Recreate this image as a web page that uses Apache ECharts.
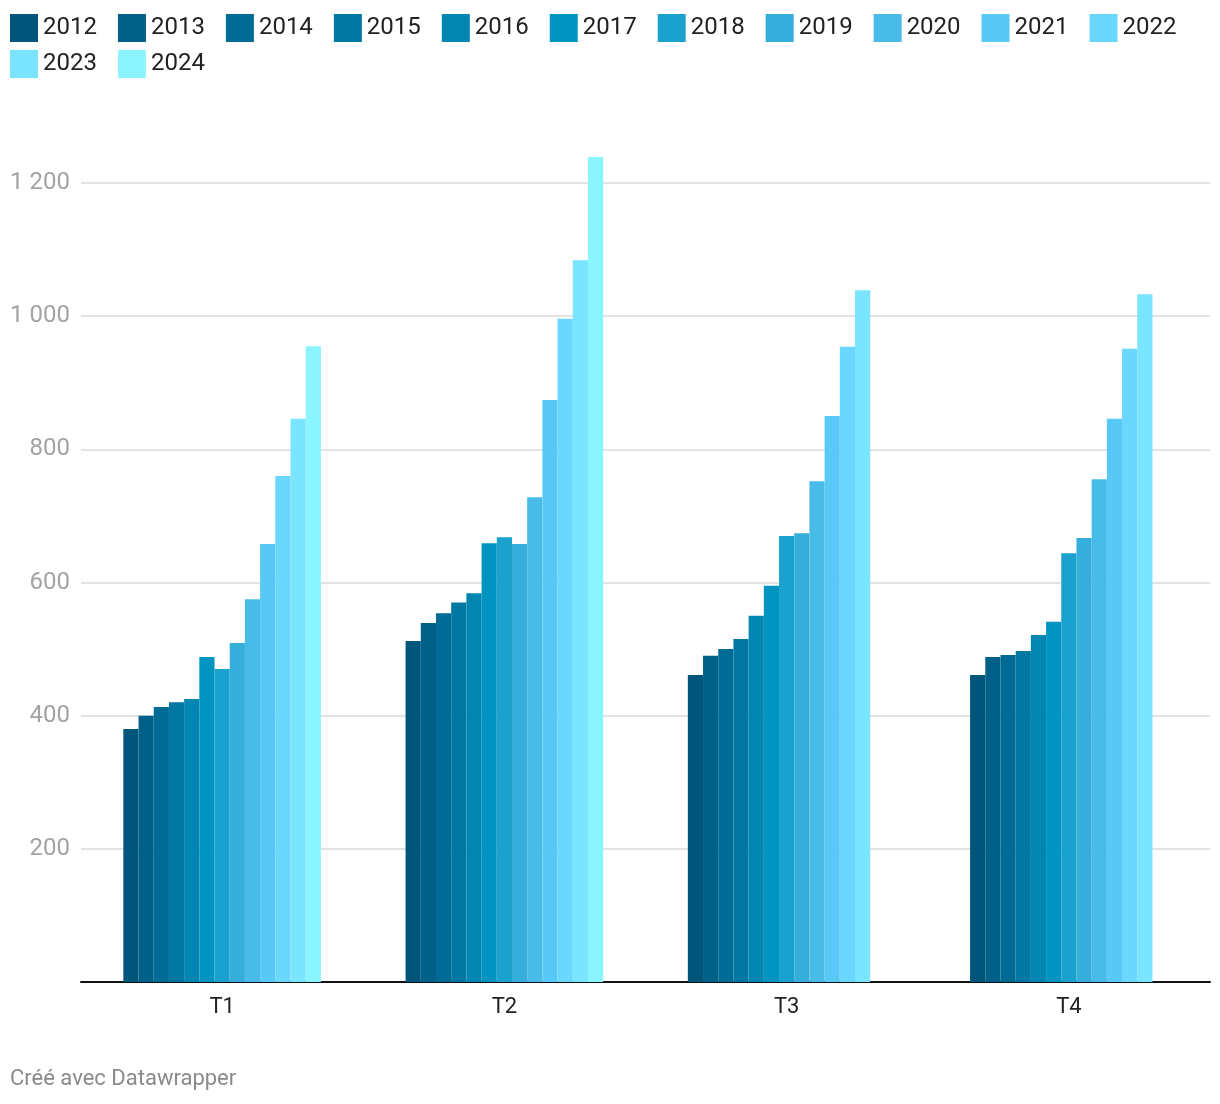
<!DOCTYPE html>
<html>
<head>
<meta charset="utf-8">
<script src="https://cdn.jsdelivr.net/npm/echarts@6/dist/echarts.min.js"></script>
<style>
html,body{margin:0;padding:0;background:#fff;}
#chart{width:1220px;height:1104px;}
</style>
</head>
<body>
<div id="chart"></div>
<script>
const quarters = ['T1', 'T2', 'T3', 'T4'];
const years = ['2012','2013','2014','2015','2016','2017','2018','2019','2020','2021','2022','2023','2024'];
const s2012 = [380, 512, 461, 461];
const s2013 = [400, 539, 490, 488];
const s2014 = [413, 554, 500, 491];
const s2015 = [420, 570, 515, 497];
const s2016 = [425, 584, 550, 521];
const s2017 = [488, 659, 595, 541];
const s2018 = [470, 668, 670, 644];
const s2019 = [509, 658, 674, 667];
const s2020 = [575, 728, 752, 755];
const s2021 = [658, 874, 850, 846];
const s2022 = [760, 996, 954, 951];
const s2023 = [846, 1084, 1039, 1033];
const s2024 = [955, 1239, null, null];
const seriesValues = [s2012, s2013, s2014, s2015, s2016, s2017, s2018, s2019, s2020, s2021, s2022, s2023, s2024];
const yTicks = [0, 200, 400, 600, 800, 1000, 1200];

const colors = ['#00557a','#006088','#006b94','#0078a3','#0086b0','#0094c0','#1aa1ce','#35aedb','#48bbe8','#58c9f6','#6bd6fe','#79e5ff','#8af4ff'];

function fmt(v) {
  return String(v).replace(/\B(?=(\d{3})+(?!\d))/g, ' ');
}

const legendBase = {
  orient: 'horizontal',
  padding: 0,
  itemWidth: 28, itemHeight: 28, itemGap: 21,
  icon: 'rect',
  textStyle: {fontSize: 24, color: '#222', fontFamily: 'Roboto'}
};

const chart = echarts.init(document.getElementById('chart'), null, {renderer: 'canvas'});
chart.setOption({
  animation: false,
  color: colors,
  textStyle: {fontFamily: 'Roboto'},
  legend: [
    Object.assign({}, legendBase, {left: 10, top: 14, data: years.slice(0, 11)}),
    Object.assign({}, legendBase, {left: 10, top: 50, data: years.slice(11)})
  ],
  grid: {left: 81, right: 10, top: 183, bottom: 122, containLabel: false},
  xAxis: {
    type: 'category',
    data: quarters,
    axisLine: {lineStyle: {color: '#111', width: 2}},
    axisTick: {show: false},
    axisLabel: {fontSize: 22, color: '#222', margin: 14, fontFamily: 'Roboto'}
  },
  yAxis: {
    type: 'value',
    min: yTicks[0], max: yTicks[yTicks.length - 1], interval: 200,
    axisLine: {show: false},
    axisTick: {show: false},
    splitLine: {lineStyle: {color: '#e3e3e3', width: 2}},
    axisLabel: {
      fontSize: 24, color: '#a3a3a3', margin: 11, fontFamily: 'Roboto',
      formatter: v => v === 0 ? '' : fmt(v)
    }
  },
  series: years.map((y, i) => ({
    name: y,
    type: 'bar',
    data: seriesValues[i],
    barGap: '0%',
    barCategoryGap: '30%',
    clip: false,
    itemStyle: {color: colors[i]}
  })),
  graphic: [{
    type: 'text', left: 10, top: 1068,
    style: {text: 'Créé avec Datawrapper', fontSize: 22, fill: '#8a8a8a', fontFamily: 'Roboto'}
  }]
});
</script>
</body>
</html>
